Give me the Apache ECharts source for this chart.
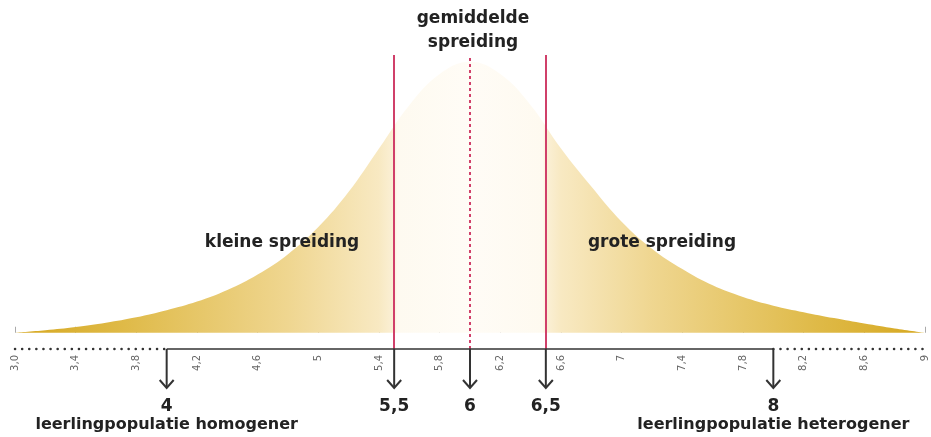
<!DOCTYPE html>
<html>
<head>
<meta charset="utf-8">
<script src="https://cdn.jsdelivr.net/npm/echarts@6/dist/echarts.min.js"></script>
<style>
  html, body { margin: 0; padding: 0; background: #fff; }
  #chart { width: 931px; height: 437px; }
</style>
</head>
<body>
<div id="chart"></div>
<script>
// schaal van de as
const xMin = 3, xMax = 9, tickStep = 0.4;
const yMin = -6, yMax = 104;

// klokvormige curve (relatieve hoogte, top = 100)
const curveX = [3.0, 3.2, 3.4, 3.6, 3.8, 4.0, 4.2, 4.4, 4.6, 4.8, 5.0, 5.2, 5.4, 5.6, 5.8, 6.0,
                6.2, 6.4, 6.6, 6.8, 7.0, 7.2, 7.4, 7.6, 7.8, 8.0, 8.2, 8.4, 8.6, 8.8, 9.0];
const curveY = [0, 0.9, 2.1, 3.7, 5.7, 8.3, 11.5, 15.8, 21.5, 29, 39, 52, 68, 84, 95.5, 100,
                95.5, 84, 68, 54, 41, 31, 23.5, 17.5, 13.2, 10, 7.6, 5.4, 3.4, 1.6, 0];

const tickLabels = ['3,0', '3,4', '3,8', '4,2', '4,6', '5', '5,4', '5,8', '6,2', '6,6', '7', '7,4', '7,8', '8,2', '8,6', '9'];

// verticale lijnen
const spreadLines = [5.5, 6.5];
const meanLine = 6;
const lineTop = 102.5;

// pijlen onder de as
const arrowValues = [4, 5.5, 6, 6.5, 8];
const arrowLabels = ['4', '5,5', '6', '6,5', '8'];
const arrowNotes = ['leerlingpopulatie homogener', '', '', '', 'leerlingpopulatie heterogener'];

// doorgetrokken deel van de as, daarbuiten gestippeld
const solidRange = [4, 8];

const FONT = '"DejaVu Sans", sans-serif';

let myChart = echarts.init(document.getElementById('chart'));

function axisSeg(from, to, dotted) {
  return {
    type: 'line',
    data: [[from, yMin], [to, yMin]],
    symbol: 'none',
    clip: false,
    silent: true,
    z: 5,
    lineStyle: dotted
      ? { color: '#333', width: 2.5, type: [0.1, 7], cap: 'round' }
      : { color: '#333', width: 1.5 }
  };
}

function label(text, x, y) {
  return {
    type: 'text', x: x, y: y, z: 100,
    style: { text: text, font: 'bold 17px ' + FONT, fill: '#222', align: 'center', verticalAlign: 'middle' }
  };
}

myChart.setOption({
  animation: false,
  grid: { left: 15, right: 6, top: 51, bottom: 88 },
  xAxis: {
    type: 'value',
    min: xMin,
    max: xMax,
    interval: tickStep,
    splitLine: { show: false },
    axisLine: { show: false },
    axisTick: { show: true, inside: true, length: 6, lineStyle: { color: '#aaa', width: 1 } },
    axisLabel: {
      rotate: 90,
      margin: 6,
      fontSize: 10,
      color: '#666',
      fontFamily: FONT,
      formatter: function (v) {
        return tickLabels[Math.round((v - xMin) / tickStep)];
      }
    }
  },
  yAxis: { type: 'value', min: yMin, max: yMax, show: false, splitLine: { show: false } },
  graphic: [
    label('gemiddelde', 473, 19),
    label('spreiding', 473, 43),
    label('kleine spreiding', 282, 243),
    label('grote spreiding', 662, 243)
  ],
  series: [
    {
      type: 'line',
      data: curveX.map((x, i) => [x, curveY[i]]),
      smooth: 0.4,
      symbol: 'none',
      silent: true,
      lineStyle: { width: 0 },
      areaStyle: {
        opacity: 1,
        color: new echarts.graphic.LinearGradient(0, 0, 1, 0, [
          { offset: 0, color: '#d6a820' },
          { offset: 0.12, color: '#dfba48' },
          { offset: 0.3, color: '#efd690' },
          { offset: 0.4, color: '#f8e9c2' },
          { offset: 0.416, color: '#fbf0d6' },
          { offset: 0.42, color: '#fefaf0' },
          { offset: 0.5, color: '#fffcf6' },
          { offset: 0.58, color: '#fefaf0' },
          { offset: 0.584, color: '#fbf0d6' },
          { offset: 0.6, color: '#f8e9c2' },
          { offset: 0.7, color: '#efd690' },
          { offset: 0.88, color: '#dfba48' },
          { offset: 1, color: '#d6a820' }
        ])
      },
      markLine: {
        silent: true,
        symbol: 'none',
        label: { show: false },
        data: spreadLines.map(v => [
          { coord: [v, yMin], lineStyle: { color: '#d0406a', width: 2, type: 'solid' } },
          { coord: [v, lineTop] }
        ]).concat([[
          { coord: [meanLine, yMin], lineStyle: { color: '#d0406a', width: 2, type: [3, 3] } },
          { coord: [meanLine, lineTop - 1] }
        ]])
      }
    },
    axisSeg(xMin, solidRange[0], true),
    axisSeg(solidRange[0], solidRange[1], false),
    axisSeg(solidRange[1], xMax, true),
    {
      type: 'custom',
      clip: false,
      silent: true,
      z: 6,
      data: arrowValues.map((v, i) => [v, i]),
      renderItem: function (params, api) {
        const i = api.value(1);
        const p = api.coord([api.value(0), yMin]);
        const x = p[0], y = p[1];
        const tip = y + 39;
        return {
          type: 'group',
          children: [
            { type: 'line', shape: { x1: x, y1: y, x2: x, y2: tip - 1 }, style: { stroke: '#333', lineWidth: 2 } },
            { type: 'polyline', shape: { points: [[x - 7, tip - 8], [x, tip], [x + 7, tip - 8]] }, style: { stroke: '#333', lineWidth: 2, fill: null } },
            { type: 'text', style: { text: arrowLabels[i], x: x, y: y + 58, align: 'center', verticalAlign: 'middle', font: 'bold 17px ' + FONT, fill: '#222' } },
            { type: 'text', style: { text: arrowNotes[i], x: x, y: y + 76, align: 'center', verticalAlign: 'middle', font: 'bold 16px ' + FONT, fill: '#222' } }
          ]
        };
      }
    }
  ]
});
</script>
</body>
</html>
